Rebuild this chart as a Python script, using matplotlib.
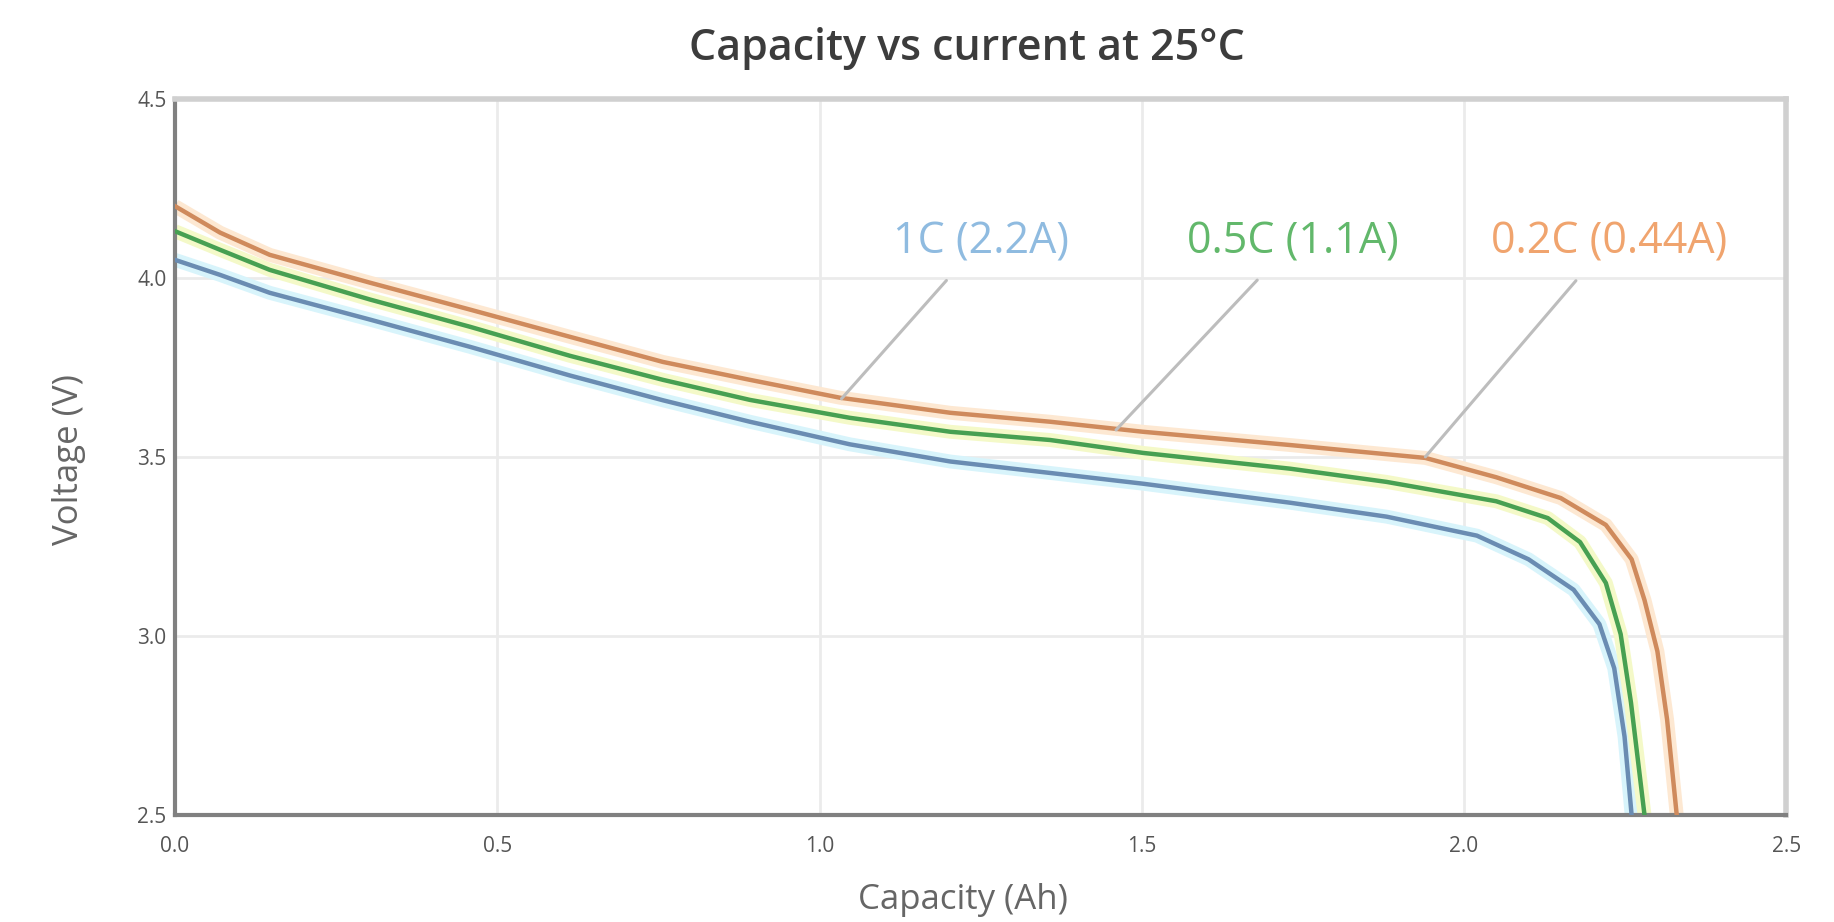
import matplotlib.pyplot as plt

plt.rcParams['font.family'] = ['Open Sans', 'DejaVu Sans']

# Courbes de décharge (Ah, V)
cap_02c = [0.0, 0.07, 0.147, 0.303, 0.458, 0.613, 0.757, 0.892, 1.032, 1.203, 1.358, 1.502, 1.73, 1.94,
           2.05, 2.15, 2.22, 2.26, 2.28, 2.30, 2.315, 2.33]
volt_02c = [4.20, 4.126, 4.064, 3.986, 3.911, 3.835, 3.765, 3.715, 3.665, 3.623, 3.598, 3.570, 3.533, 3.497,
            3.443, 3.385, 3.31, 3.214, 3.10, 2.957, 2.767, 2.50]

cap_05c = [0.0, 0.07, 0.147, 0.303, 0.458, 0.613, 0.757, 0.892, 1.047, 1.203, 1.358, 1.502, 1.73, 1.88,
           2.05, 2.13, 2.18, 2.22, 2.243, 2.259, 2.28]
volt_05c = [4.13, 4.078, 4.022, 3.939, 3.863, 3.782, 3.715, 3.659, 3.609, 3.570, 3.547, 3.511, 3.467, 3.43,
            3.376, 3.329, 3.262, 3.148, 3.005, 2.814, 2.50]

cap_1c = [0.0, 0.07, 0.147, 0.303, 0.458, 0.613, 0.757, 0.892, 1.047, 1.203, 1.358, 1.502, 1.60, 1.73, 1.88,
          2.02, 2.10, 2.17, 2.21, 2.233, 2.249, 2.26]
volt_1c = [4.05, 4.008, 3.958, 3.883, 3.807, 3.727, 3.658, 3.598, 3.535, 3.487, 3.455, 3.425, 3.402, 3.372, 3.333,
           3.28, 3.214, 3.129, 3.033, 2.91, 2.719, 2.50]

labels = ["1C (2.2A)", "0.5C (1.1A)", "0.2C (0.44A)"]
label_x = [1.25, 1.735, 2.225]
label_y = [4.10, 4.10, 4.10]
pointe_x = [1.034, 1.46, 1.94]
pointe_y = [3.662, 3.575, 3.500]

x_ticks = [0.0, 0.5, 1.0, 1.5, 2.0, 2.5]
y_ticks = [2.5, 3.0, 3.5, 4.0, 4.5]

fig = plt.figure(figsize=(18.34, 9.22), dpi=100, facecolor='white')
ax = fig.add_axes([0.0954, 0.116, 0.8786, 0.777])

series = [
    (cap_1c, volt_1c, '#6a8cb2', '#d8f4fb', '#8fbbe0'),
    (cap_05c, volt_05c, '#47a052', '#f4f9c8', '#62b86b'),
    (cap_02c, volt_02c, '#cf8a5c', '#fde8d2', '#f0a46e'),
]

# halo clair autour des courbes (effet de l'image source)
for cx, cv, col, halo, _ in series:
    ax.plot(cx, cv, color=halo, lw=10, solid_capstyle='butt', solid_joinstyle='round', zorder=2)
for cx, cv, col, halo, _ in series:
    ax.plot(cx, cv, color=col, lw=3.2, solid_joinstyle='round', zorder=3)

for i, (_, _, _, _, tcol) in enumerate(series):
    ax.annotate(labels[i], xy=(pointe_x[i], pointe_y[i]), xytext=(label_x[i], label_y[i]),
                textcoords='data', ha='center', va='center', fontsize=31, color=tcol,
                arrowprops=dict(arrowstyle='-', color='#bdbdbd', lw=2.2,
                                shrinkA=13, shrinkB=0), zorder=4)

ax.set_xlim(0.0, 2.5)
ax.set_ylim(2.5, 4.5)
ax.set_xticks(x_ticks)
ax.set_yticks(y_ticks)
ax.set_xticklabels([f"{t:.1f}" for t in x_ticks])
ax.set_yticklabels([f"{t:.1f}" for t in y_ticks])
ax.tick_params(axis='both', labelsize=15, colors='#555555', length=0)
ax.tick_params(axis='x', pad=15)
ax.tick_params(axis='y', pad=6)
ax.grid(True, color='#ebebeb', lw=2)
ax.set_axisbelow(True)

for s in ['left', 'bottom']:
    ax.spines[s].set_color('#808080'); ax.spines[s].set_linewidth(3)
for s in ['top', 'right']:
    ax.spines[s].set_color('#d0d0d0'); ax.spines[s].set_linewidth(4)

ax.set_xlabel("Capacity (Ah)", fontsize=25, color='#666666')
ax.set_ylabel("Voltage (V)", fontsize=25, color='#666666')
ax.xaxis.set_label_coords(0.489, -0.119)
ax.yaxis.set_label_coords(-0.066, 0.496)
ax.xaxis.label.set_va('center')
ax.yaxis.label.set_va('center')

fig.text(0.527, 0.947, "Capacity vs current at 25\u00b0C", fontsize=31, fontweight='semibold',
         color='#3c3c3c', ha='center', va='center')

plt.savefig("out.png", dpi=100, facecolor='white')
